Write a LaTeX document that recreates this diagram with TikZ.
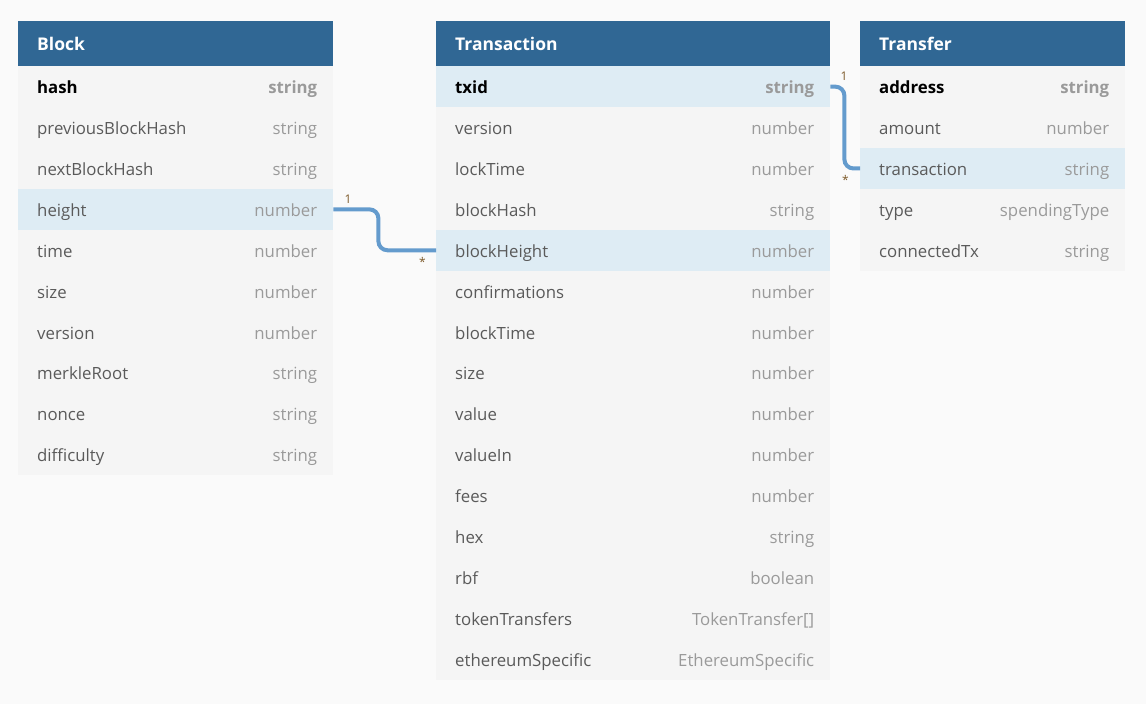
\documentclass[tikz,border=0pt]{standalone}
\usepackage{fontspec}
\setmainfont{Open Sans}
\usetikzlibrary{positioning}

\definecolor{pagebg}{HTML}{FAFAFA}
\definecolor{headbg}{HTML}{306794}
\definecolor{bodybg}{HTML}{F5F5F5}
\definecolor{markbg}{HTML}{DEECF4}
\definecolor{namefg}{HTML}{5A5A5A}
\definecolor{typefg}{HTML}{9A9A9A}
\definecolor{linkfg}{HTML}{649BCD}
\definecolor{multfg}{HTML}{7D5A2A}

\begin{document}
\begin{tikzpicture}[x=1pt, y=-1pt,
  head/.style={fill=headbg, text=white, anchor=north west, inner xsep=19pt, inner ysep=0pt,
    minimum height=45pt, align=left, font=\fontsize{17.5}{21}\selectfont\bfseries},
  row/.style={fill=bodybg, anchor=north west, inner sep=0pt, minimum height=40.9pt},
  hlrow/.style={row, fill=markbg},
  colname/.style={inner sep=0pt, text height=16pt, text depth=2pt, text=namefg,
    font=\fontsize{16.8}{20}\selectfont},
  coltype/.style={colname, text=typefg},
  keyname/.style={colname, text=black, font=\fontsize{16.8}{20}\selectfont\bfseries},
  keytype/.style={coltype, font=\fontsize{16.8}{20}\selectfont\bfseries},
  link/.style={draw=linkfg, line width=4pt, rounded corners=9pt},
  mult/.style={inner sep=0pt, text=multfg, font=\fontsize{12}{14}\selectfont}]
\useasboundingbox[fill=pagebg] (0,0) rectangle (1146,704);

% Block
\node[head, text width=277pt] (blk) at (18,21) {Block};
\node[row, minimum width=315pt] (blk-0) at (18,66) {};
\node[keyname, right=19pt of blk-0.west] (blk-0-n) {hash};
\node[keytype, left=16pt of blk-0.east] (blk-0-t) {string};
\foreach [count=\i] \n/\t/\f in {previousBlockHash/string/row, nextBlockHash/string/row,
    height/number/hlrow, time/number/row, size/number/row, version/number/row,
    merkleRoot/string/row, nonce/string/row, difficulty/string/row} {
  \node[\f, minimum width=315pt] (blk-\i) at (18,{66+40.9*\i}) {};
  \node[colname, right=19pt of blk-\i.west] (blk-\i-n) {\n};
  \node[coltype, left=16pt of blk-\i.east] (blk-\i-t) {\t};
}

% Transaction
\node[head, text width=356pt] (trx) at (436,21) {Transaction};
\node[hlrow, minimum width=394pt] (trx-0) at (436,66) {};
\node[keyname, right=19pt of trx-0.west] (trx-0-n) {txid};
\node[keytype, left=16pt of trx-0.east] (trx-0-t) {string};
\foreach [count=\i] \n/\t/\f in {version/number/row, lockTime/number/row,
    blockHash/string/row, blockHeight/number/hlrow, confirmations/number/row,
    blockTime/number/row, size/number/row, value/number/row, valueIn/number/row,
    fees/number/row, hex/string/row, rbf/boolean/row,
    tokenTransfers/{TokenTransfer[]}/row, ethereumSpecific/EthereumSpecific/row} {
  \node[\f, minimum width=394pt] (trx-\i) at (436,{66+40.9*\i}) {};
  \node[colname, right=19pt of trx-\i.west] (trx-\i-n) {\n};
  \node[coltype, left=16pt of trx-\i.east] (trx-\i-t) {\t};
}

% Transfer
\node[head, text width=227pt] (trf) at (860,21) {Transfer};
\node[row, minimum width=265pt] (trf-0) at (860,66) {};
\node[keyname, right=19pt of trf-0.west] (trf-0-n) {address};
\node[keytype, left=16pt of trf-0.east] (trf-0-t) {string};
\foreach [count=\i] \n/\t/\f in {amount/number/row, transaction/string/hlrow,
    type/spendingType/row, connectedTx/string/row} {
  \node[\f, minimum width=265pt] (trf-\i) at (860,{66+40.9*\i}) {};
  \node[colname, right=19pt of trf-\i.west] (trf-\i-n) {\n};
  \node[coltype, left=16pt of trf-\i.east] (trf-\i-t) {\t};
}

% relations
\draw[link] (blk-3.east) -- ++(45,0) |- (trx-4.west);
\node[mult, above right=6pt and 11pt of blk-3.east] (blk-one) {1};
\node[mult, below left=7pt and 10pt of trx-4.west] (trx-many) {*};

\draw[link] (trx-0.east) -- ++(14,0) |- (trf-2.west);
\node[mult, above right=6pt and 10pt of trx-0.east] (trx-one) {1};
\node[mult, below left=7pt and 11pt of trf-2.west] (trf-many) {*};
\end{tikzpicture}
\end{document}
